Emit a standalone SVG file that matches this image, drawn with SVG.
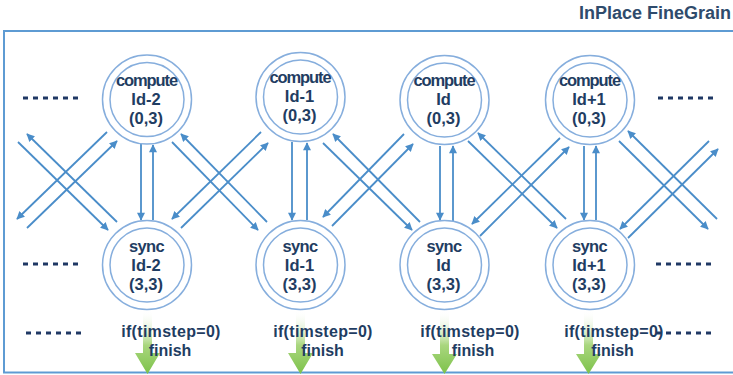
<svg xmlns="http://www.w3.org/2000/svg" width="733" height="375" viewBox="0 0 733 375">
<defs>
<style>
.frame{fill:none;stroke:#5E9BD3;stroke-width:2}
.outer,.inner{fill:#fff;stroke:#86AEDD;stroke-width:1.5}
.inner{fill:none}
.lbl{font-family:"Liberation Sans",Arial,sans-serif;font-weight:bold;font-size:16.5px;fill:#1F3D62;text-anchor:middle}
.cmp{letter-spacing:-1.1px}
.syn{letter-spacing:-0.6px}
.cond{font-family:"Liberation Sans",Arial,sans-serif;font-weight:bold;font-size:16px;fill:#1F3D62;text-anchor:middle}
.title{font-family:"Liberation Sans",Arial,sans-serif;font-weight:bold;font-size:18px;fill:#2F4B6C;text-anchor:end}
.arr{stroke:#4A8DC9;stroke-width:1.8;fill:none;marker-end:url(#ah)}
.dots{stroke:#1F3864;stroke-width:3;stroke-dasharray:5 5}
.green{fill:url(#gg)}
</style>
<marker id="ah" viewBox="0 0 10 10" refX="9" refY="5" markerWidth="9" markerHeight="8" markerUnits="userSpaceOnUse" orient="auto">
<path d="M0,0 L10,5 L0,10 z" fill="#4A8DC9"/>
</marker>
<linearGradient id="gg" x1="0" y1="0" x2="0" y2="1">
<stop offset="0" stop-color="#ffffff" stop-opacity="0"/>
<stop offset="0.55" stop-color="#A9D67E"/>
<stop offset="1" stop-color="#7DC24A"/>
</linearGradient>
</defs>
<rect width="733" height="375" fill="#fff"/>
<text class="title" x="731" y="19">InPlace FineGrain</text>
<rect class="frame" x="4" y="31" width="731" height="341.5"/>

<g id="dots">
<line class="dots" x1="23" y1="98" x2="78" y2="98"/>
<line class="dots" x1="658" y1="98" x2="713" y2="98"/>
<line class="dots" x1="23" y1="264" x2="78" y2="264"/>
<line class="dots" x1="656" y1="264" x2="711" y2="264"/>
<line class="dots" x1="26" y1="333" x2="81" y2="333"/>
<line class="dots" x1="656" y1="333" x2="711" y2="333"/>
</g>

<g id="connectors">
<!-- left edge -->
<line class="arr" x1="18" y1="142" x2="108" y2="230"/>
<line class="arr" x1="117" y1="222" x2="27" y2="134"/>
<line class="arr" x1="27" y1="228" x2="117" y2="141"/>
<line class="arr" x1="107" y1="132" x2="17" y2="219"/>
<!-- Id-2 / Id-1 -->
<line class="arr" x1="172" y1="142" x2="258" y2="230"/>
<line class="arr" x1="267" y1="222" x2="181" y2="134"/>
<line class="arr" x1="181" y1="228" x2="268" y2="143"/>
<line class="arr" x1="261" y1="132" x2="172" y2="219"/>
<!-- Id-1 / Id -->
<line class="arr" x1="323" y1="143" x2="412" y2="230"/>
<line class="arr" x1="420" y1="222" x2="333" y2="134"/>
<line class="arr" x1="332" y1="226" x2="413" y2="144"/>
<line class="arr" x1="404" y1="134" x2="323" y2="217"/>
<!-- Id / Id+1 -->
<line class="arr" x1="468" y1="141" x2="557" y2="228"/>
<line class="arr" x1="566" y1="219" x2="478" y2="133"/>
<line class="arr" x1="480" y1="236" x2="569" y2="147"/>
<line class="arr" x1="560" y1="138" x2="472" y2="224"/>
<!-- right edge -->
<line class="arr" x1="619" y1="141" x2="708" y2="229"/>
<line class="arr" x1="717" y1="219" x2="628" y2="131"/>
<line class="arr" x1="628" y1="238" x2="718" y2="149"/>
<line class="arr" x1="709" y1="141" x2="620" y2="229"/>
<!-- verticals -->
<line class="arr" x1="141" y1="144" x2="141" y2="220"/>
<line class="arr" x1="153" y1="220" x2="153" y2="145"/>
<line class="arr" x1="292" y1="142" x2="292" y2="220"/>
<line class="arr" x1="307" y1="220" x2="307" y2="143"/>
<line class="arr" x1="440" y1="146" x2="440" y2="220"/>
<line class="arr" x1="453" y1="221" x2="453" y2="146"/>
<line class="arr" x1="584" y1="146" x2="584" y2="220"/>
<line class="arr" x1="596" y1="220" x2="596" y2="146"/>
<!-- finish arrows -->
<path class="green" d="M143,310 H152 V353 H160 L147.5,374 L135,353 H143 Z"/>
<path class="green" d="M296,310 H305 V353 H313 L300.5,374 L288,353 H296 Z"/>
<path class="green" d="M440,310 H449 V354 H457 L444.5,374 L432,354 H440 Z"/>
<path class="green" d="M584,310 H593 V354 H601 L588.5,374 L576,354 H584 Z"/>
</g>

<g id="compute-id-2">
<circle class="outer" cx="147" cy="99.5" r="44.5"/>
<circle class="inner" cx="147" cy="99.5" r="37"/>
<text class="lbl cmp" x="146.5" y="86">compute</text>
<text class="lbl" x="146" y="105">Id-2</text>
<text class="lbl" x="146" y="124">(0,3)</text>
</g>
<g id="compute-id-1">
<circle class="outer" cx="300.5" cy="97" r="44.5"/>
<circle class="inner" cx="300.5" cy="97" r="37"/>
<text class="lbl cmp" x="300" y="83">compute</text>
<text class="lbl" x="299.5" y="102">Id-1</text>
<text class="lbl" x="299.5" y="121">(0,3)</text>
</g>
<g id="compute-id">
<circle class="outer" cx="444.5" cy="100" r="44.5"/>
<circle class="inner" cx="444.5" cy="100" r="37"/>
<text class="lbl cmp" x="444" y="86">compute</text>
<text class="lbl" x="443.5" y="105">Id</text>
<text class="lbl" x="443.5" y="124">(0,3)</text>
</g>
<g id="compute-id+1">
<circle class="outer" cx="590" cy="100" r="44.5"/>
<circle class="inner" cx="590" cy="100" r="37"/>
<text class="lbl cmp" x="589.5" y="86">compute</text>
<text class="lbl" x="589" y="105">Id+1</text>
<text class="lbl" x="589" y="124">(0,3)</text>
</g>

<g id="sync-id-2">
<circle class="outer" cx="147" cy="265" r="44.5"/>
<circle class="inner" cx="147" cy="265" r="37"/>
<text class="lbl syn" x="146.5" y="252">sync</text>
<text class="lbl" x="146" y="271">Id-2</text>
<text class="lbl" x="146" y="290">(3,3)</text>
</g>
<g id="sync-id-1">
<circle class="outer" cx="300.5" cy="265" r="44.5"/>
<circle class="inner" cx="300.5" cy="265" r="37"/>
<text class="lbl syn" x="300" y="252">sync</text>
<text class="lbl" x="299.5" y="271">Id-1</text>
<text class="lbl" x="299.5" y="290">(3,3)</text>
</g>
<g id="sync-id">
<circle class="outer" cx="444.5" cy="265" r="44.5"/>
<circle class="inner" cx="444.5" cy="265" r="37"/>
<text class="lbl syn" x="444" y="252">sync</text>
<text class="lbl" x="443.5" y="271">Id</text>
<text class="lbl" x="443.5" y="290">(3,3)</text>
</g>
<g id="sync-id+1">
<circle class="outer" cx="590" cy="265" r="44.5"/>
<circle class="inner" cx="590" cy="265" r="37"/>
<text class="lbl syn" x="589.5" y="252">sync</text>
<text class="lbl" x="589" y="271">Id+1</text>
<text class="lbl" x="589" y="290">(3,3)</text>
</g>

<g id="finish-labels">
<text class="cond" x="171" y="337" letter-spacing="0.3">if(timstep=0)</text>
<text class="cond" x="170" y="356">finish</text>
<text class="cond" x="323" y="337" letter-spacing="0.3">if(timstep=0)</text>
<text class="cond" x="322.5" y="356">finish</text>
<text class="cond" x="470" y="337" letter-spacing="0.3">if(timstep=0)</text>
<text class="cond" x="473" y="356">finish</text>
<text class="cond" x="614" y="337" letter-spacing="0.3">if(timstep=0)</text>
<text class="cond" x="612.5" y="356">finish</text>
</g>
</svg>
